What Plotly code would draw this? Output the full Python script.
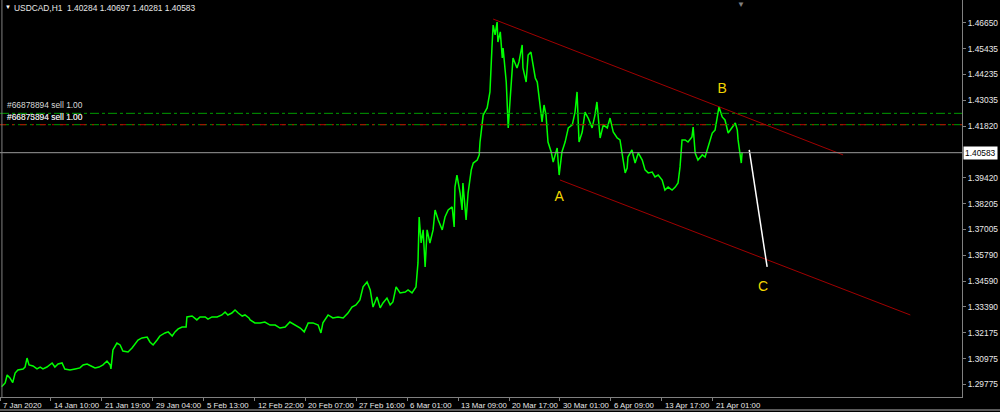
import plotly.graph_objects as go

# ---------------- data (H1 bars, bar index from 7 Jan 2020) ----------------
bars = [4, 13, 18, 25, 32, 38, 45, 58, 63, 68, 73, 83, 93, 101, 108, 118, 131, 138, 146, 156,
        163, 176, 189, 201, 209, 219, 229, 239, 249, 259, 269, 277, 279, 284, 294, 302, 309, 322, 332, 340,
        347, 357, 370, 377, 385, 395, 402, 415, 423, 433, 440, 448, 458, 468, 470, 483, 495, 503, 516, 523,
        533, 546, 558, 566, 573, 583, 591, 599, 609, 616, 626, 629, 641, 654, 666, 679, 692, 704, 717, 729,
        742, 755, 765, 775, 787, 800, 807, 812, 825, 837, 850, 863, 875, 885, 895, 905, 913, 923, 931, 938,
        948, 956, 963, 973, 981, 988, 996, 1006, 1019, 1026, 1036, 1046, 1051, 1054, 1059, 1064, 1069, 1074, 1081, 1089,
        1094, 1102, 1112, 1119, 1127, 1137, 1142, 1144, 1149, 1157, 1162, 1164, 1172, 1177, 1185, 1190, 1200, 1205, 1207, 1215,
        1225, 1232, 1237, 1240, 1245, 1250, 1252, 1258, 1263, 1265, 1273, 1278, 1283, 1290, 1300, 1305, 1313, 1315, 1323, 1328,
        1335, 1341, 1346, 1351, 1356, 1363, 1368, 1373, 1378, 1386, 1391, 1401, 1406, 1413, 1421, 1429, 1439, 1446, 1451, 1456,
        1464, 1471, 1479, 1489, 1496, 1501, 1509, 1517, 1527, 1534, 1542, 1552, 1559, 1567, 1572, 1577, 1579, 1589, 1597, 1605,
        1615, 1622, 1630, 1640, 1647, 1655, 1665, 1672, 1680, 1690, 1698, 1705, 1710, 1715, 1723, 1730, 1740, 1743, 1748, 1755,
        1766, 1773, 1781, 1791, 1798, 1803, 1808, 1816, 1823, 1831, 1841, 1849, 1854, 1856, 1864, 1866]

close = [1.2966, 1.2984, 1.3021, 1.3007, 1.2985, 1.3030, 1.3044, 1.3049, 1.3058, 1.3100,
         1.3068, 1.3063, 1.3049, 1.3058, 1.3049, 1.3058, 1.3077, 1.3058, 1.3072, 1.3077,
         1.3049, 1.3044, 1.3049, 1.3054, 1.3068, 1.3072, 1.3063, 1.3054, 1.3058, 1.3068,
         1.3086, 1.3068, 1.3049, 1.3138, 1.3170, 1.3161, 1.3133, 1.3128, 1.3147, 1.3166,
         1.3184, 1.3194, 1.3198, 1.3175, 1.3161, 1.3184, 1.3203, 1.3217, 1.3222, 1.3203,
         1.3222, 1.3236, 1.3245, 1.3245, 1.3292, 1.3296, 1.3278, 1.3292, 1.3292, 1.3282,
         1.3292, 1.3292, 1.3301, 1.3315, 1.3301, 1.3310, 1.3324, 1.3310, 1.3296, 1.3301,
         1.3287, 1.3278, 1.3264, 1.3264, 1.3268, 1.3254, 1.3254, 1.3240, 1.3245, 1.3268,
         1.3254, 1.3240, 1.3222, 1.3264, 1.3264, 1.3254, 1.3217, 1.3264, 1.3301, 1.3287,
         1.3292, 1.3287, 1.3310, 1.3338, 1.3348, 1.3371, 1.3432, 1.3455, 1.3418, 1.3338,
         1.3385, 1.3334, 1.3357, 1.3380, 1.3348, 1.3362, 1.3432, 1.3404, 1.3408, 1.3418,
         1.3404, 1.3432, 1.3544, 1.3758, 1.3637, 1.3698, 1.3525, 1.3698, 1.3637, 1.3698,
         1.3791, 1.3744, 1.3698, 1.3758, 1.3791, 1.3805, 1.3712, 1.3898, 1.3954, 1.3870,
         1.3791, 1.3917, 1.3744, 1.3870, 1.3978, 1.4010, 1.4024, 1.4048, 1.4108, 1.4234,
         1.4267, 1.4342, 1.4547, 1.4654, 1.4608, 1.4668, 1.4575, 1.4622, 1.4500, 1.4547,
         1.4388, 1.4174, 1.4314, 1.4500, 1.4454, 1.4482, 1.4561, 1.4454, 1.4388, 1.4514,
         1.4528, 1.4468, 1.4407, 1.4388, 1.4314, 1.4202, 1.4281, 1.4234, 1.4108, 1.4062,
         1.4015, 1.4080, 1.3954, 1.4062, 1.4108, 1.4174, 1.4188, 1.4248, 1.4342, 1.4108,
         1.4155, 1.4248, 1.4220, 1.4174, 1.4234, 1.4295, 1.4127, 1.4188, 1.4174, 1.4220,
         1.4155, 1.4127, 1.4118, 1.4015, 1.3964, 1.3987, 1.4038, 1.4071, 1.4010, 1.4057,
         1.4024, 1.3978, 1.3964, 1.3968, 1.3945, 1.3954, 1.3931, 1.3884, 1.3898, 1.3884,
         1.3898, 1.3917, 1.3992, 1.4118, 1.4118, 1.4108, 1.4132, 1.4178, 1.4057, 1.4024,
         1.4048, 1.4038, 1.4085, 1.4150, 1.4164, 1.4211, 1.4272, 1.4225, 1.4211, 1.4150,
         1.4178, 1.4197, 1.4164, 1.4118, 1.4010, 1.40583]

bid_price = 1.40583
order_prices = [1.4242, 1.4189]
order_labels = ["#66878894 sell 1.00", "#66875894 sell 1.00"]

# channel lines (bar, price)
upper_x = [1240, 2120]
upper_y = [1.4682, 1.4048]
lower_x = [1408, 2289]
lower_y = [1.3931, 1.3301]
wave_x = [1884, 1929]
wave_y = [1.4071, 1.3525]
wave_labels = ["A", "B", "C"]
wave_label_x = [1406, 1816, 1919]
wave_label_y = [1.3850, 1.4355, 1.3430]

ytick_vals = [1.46650, 1.45435, 1.44235, 1.43035, 1.41820, 1.39420, 1.38205,
              1.37005, 1.35790, 1.34590, 1.33390, 1.32175, 1.30975, 1.29775]
xtick_labels = ["7 Jan 2020", "14 Jan 10:00", "21 Jan 19:00", "29 Jan 04:00", "5 Feb 13:00",
                "12 Feb 22:00", "20 Feb 07:00", "27 Feb 16:00", "6 Mar 01:00", "13 Mar 09:00",
                "20 Mar 17:00", "30 Mar 01:00", "6 Apr 09:00", "13 Apr 17:00", "21 Apr 01:00"]
bars_per_tick = 128
title_text = "USDCAD,H1  1.40284 1.40697 1.40281 1.40583"

# ---------------- figure ----------------
FONT = "Liberation Sans"
AX = "#808080"
TXT = "#e8e8e8"
FS = 8.4
xtick_vals = [i * bars_per_tick for i in range(len(xtick_labels))]

fig = go.Figure()
fig.add_trace(go.Scatter(x=bars, y=close, mode="lines",
                         line=dict(color="#00ff00", width=1.5), hoverinfo="skip"))
fig.add_trace(go.Scatter(x=upper_x, y=upper_y, mode="lines",
                         line=dict(color="#a00000", width=1), hoverinfo="skip"))
fig.add_trace(go.Scatter(x=lower_x, y=lower_y, mode="lines",
                         line=dict(color="#a00000", width=1), hoverinfo="skip"))
fig.add_trace(go.Scatter(x=wave_x, y=wave_y, mode="lines",
                         line=dict(color="#ffffff", width=1.5), hoverinfo="skip"))
fig.add_trace(go.Scatter(x=wave_label_x, y=wave_label_y, mode="text", text=wave_labels,
                         textfont=dict(family=FONT, size=14, color="#f2d600"), hoverinfo="skip"))

shapes = []
# bid line
shapes.append(dict(type="line", xref="paper", x0=0, x1=1, yref="y", y0=bid_price, y1=bid_price,
                   line=dict(color="#9a9a9a", width=1)))
# order lines
shapes.append(dict(type="line", xref="paper", x0=0, x1=1, yref="y", y0=order_prices[0], y1=order_prices[0],
                   line=dict(color="#009a00", width=1, dash="dashdot")))
shapes.append(dict(type="line", xref="paper", x0=0, x1=1, yref="y", y0=order_prices[1], y1=order_prices[1],
                   line=dict(color="#009a00", width=1, dash="dashdot")))
shapes.append(dict(type="line", xref="paper", x0=0, x1=1, yref="y", y0=order_prices[1], y1=order_prices[1],
                   line=dict(color="#c00000", width=1, dash="6px,6px,2px,6px")))
# left frame line
shapes.append(dict(type="line", xref="paper", x0=0.002, x1=0.002, yref="paper", y0=0, y1=1,
                   line=dict(color=AX, width=1)))
# bottom strip line
shapes.append(dict(type="line", xref="paper", x0=0, x1=1.04, yref="paper", y0=-0.033, y1=-0.033,
                   line=dict(color="#5a5a5a", width=2)))

annotations = []
for v, t in zip(xtick_vals, xtick_labels):
    annotations.append(dict(x=v, y=0, xref="x", yref="paper", text=t, showarrow=False,
                            xanchor="left", yanchor="top", xshift=1, yshift=-2,
                            font=dict(family=FONT, size=7.8, color=TXT)))
annotations.append(dict(x=0.012, y=1, xref="paper", yref="paper", text=title_text, showarrow=False,
                        xanchor="left", yanchor="top", yshift=-1,
                        font=dict(family=FONT, size=FS, color=TXT)))
annotations.append(dict(x=0.003, y=1, xref="paper", yref="paper", text="▼", showarrow=False,
                        xanchor="left", yanchor="top", yshift=-2,
                        font=dict(family=FONT, size=6, color="#ffffff")))
annotations.append(dict(x=0.77, y=1, xref="paper", yref="paper", text="▼", showarrow=False,
                        xanchor="center", yanchor="top", yshift=2,
                        font=dict(family=FONT, size=8, color="#808080")))
for p, t in zip(order_prices, order_labels):
    annotations.append(dict(x=0.005, y=p, xref="paper", yref="y", text=t, showarrow=False,
                            xanchor="left", yanchor="bottom", yshift=1,
                            font=dict(family=FONT, size=FS, color="#d8d8d8")))
annotations.append(dict(x=0.0055, y=order_prices[1], xref="paper", yref="y", text="#66873394 sell 1.00",
                        showarrow=False, xanchor="left", yanchor="bottom", yshift=1,
                        font=dict(family=FONT, size=FS, color="#d8d8d8")))
annotations.append(dict(x=1, y=bid_price, xref="paper", yref="y", text=f"{bid_price:.5f}",
                        showarrow=False, xanchor="left", yanchor="middle", xshift=1,
                        bgcolor="#ffffff", borderpad=1,
                        font=dict(family=FONT, size=FS, color="#000000")))

fig.update_layout(
    width=1000, height=412,
    paper_bgcolor="#000000", plot_bgcolor="#000000",
    margin=dict(l=0, r=38, t=0, b=15),
    showlegend=False,
    shapes=shapes, annotations=annotations,
    xaxis=dict(range=[0, 2419], tickvals=xtick_vals, showticklabels=False,
               ticks="outside", ticklen=3, tickcolor=AX, showgrid=False, zeroline=False,
               showline=True, linecolor=AX, linewidth=1, fixedrange=True),
    yaxis=dict(side="right", range=[1.29182, 1.47709], tickvals=ytick_vals,
               ticktext=[f"{v:.5f}" for v in ytick_vals],
               tickfont=dict(family=FONT, size=FS, color=TXT),
               ticks="outside", ticklen=3, tickcolor=AX, showgrid=False, zeroline=False,
               showline=True, linecolor=AX, linewidth=1, fixedrange=True),
)

fig.write_html("out.html", config={"displayModeBar": False},
               post_script="document.body.style.margin='0';document.body.style.overflow='hidden';"
                           "document.body.style.background='#000';")
